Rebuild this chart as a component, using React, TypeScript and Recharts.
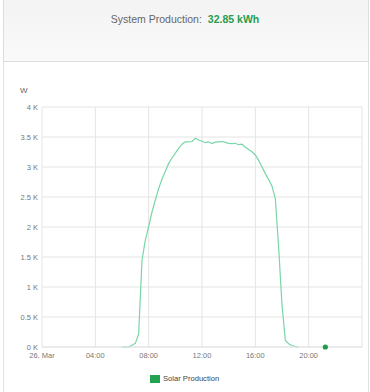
import React from "react";
import { LineChart, Line, XAxis, YAxis, CartesianGrid } from "recharts";

const hours: number[] = [
  6.0, 6.25, 6.5, 6.75, 7.0, 7.25, 7.5, 7.75, 8.0, 8.25, 8.5, 8.75, 9.0, 9.25, 9.5, 9.75,
  10.0, 10.25, 10.5, 10.75, 11.0, 11.25, 11.5, 11.75, 12.0, 12.25, 12.5, 12.75, 13.0, 13.25,
  13.5, 13.75, 14.0, 14.25, 14.5, 14.75, 15.0, 15.25, 15.5, 15.75, 16.0, 16.25, 16.5, 16.75,
  17.0, 17.25, 17.5, 17.75, 18.0, 18.25, 18.5, 18.75, 19.0, 19.25, 20.0, 21.25,
];
const watts: (number | null)[] = [
  0, 0, 0, 30, 60, 220, 1450, 1780, 2010, 2250, 2450, 2640, 2800, 2930, 3060, 3150,
  3230, 3310, 3380, 3420, 3420, 3425, 3480, 3450, 3430, 3405, 3420, 3390, 3415, 3420,
  3425, 3410, 3395, 3390, 3395, 3372, 3380, 3330, 3290, 3255, 3200, 3110, 3000, 2890,
  2790, 2680, 2470, 1650, 700, 110, 55, 25, 8, 0, null, 0,
];
const xTicks: number[] = [0, 4, 8, 12, 16, 20];
const xTickLabels: string[] = ["26. Mar", "04:00", "08:00", "12:00", "16:00", "20:00"];
const yTicks: number[] = [0, 500, 1000, 1500, 2000, 2500, 3000, 3500, 4000];
const yTickLabels: string[] = ["0 K", "0.5 K", "1 K", "1.5 K", "2 K", "2.5 K", "3 K", "3.5 K", "4 K"];
const headerLabel = "System Production:";
const headerValue = "32.85 kWh";
const seriesName = "Solar Production";
const yUnit = "W";

const data = hours.map((h, i) => ({ t: h, w: watts[i] }));
const lastIdx = data.length - 1;

const FONT = "'Liberation Sans', Arial, sans-serif";

export default function App() {
  return (
    <div style={{ position: "absolute", left: 0, top: 0, width: 370, height: 392, background: "#fff", fontFamily: FONT, overflow: "hidden" }}>
      <div
        style={{
          position: "absolute",
          left: 3,
          top: 0,
          width: 364,
          height: 61,
          borderLeft: "1px solid #ddd",
          borderRight: "1px solid #ddd",
          borderBottom: "1px solid #ddd",
          background: "linear-gradient(#f3f3f3, #fafafa)",
        }}
      />
      <div style={{ position: "absolute", left: 3, top: 62, width: 364, height: 330, borderLeft: "1px solid #e2e2e2", borderRight: "1px solid #e2e2e2" }} />
      <div style={{ position: "absolute", left: 0, top: 12, width: 370, textAlign: "center", fontSize: 10.5, lineHeight: "14px" }}>
        <span style={{ color: "#666" }}>{headerLabel}</span>
        <span style={{ color: "#2a9d4f", fontWeight: "bold", marginLeft: 6 }}>{headerValue}</span>
      </div>
      <div style={{ position: "absolute", left: 20, top: 86, fontSize: 8, color: "#666" }}>{yUnit}</div>
      <div style={{ position: "absolute", left: 0, top: 62 }}>
        <LineChart width={370} height={330} data={data} margin={{ top: 45, right: 8, left: 0, bottom: 25 }}>
          <CartesianGrid stroke="#e4e4e4" strokeWidth={1} />
          <XAxis
            dataKey="t"
            type="number"
            domain={[0, 24]}
            ticks={xTicks}
            tickFormatter={(v: number) => xTickLabels[xTicks.indexOf(v)] ?? ""}
            tickLine={false}
            axisLine={{ stroke: "#e4e4e4" }}
            tickSize={0}
            tickMargin={6}
            height={20}
            interval={0}
            tick={{ fontSize: 7.5, fill: "#777", fontFamily: FONT }}
          />
          <YAxis
            type="number"
            domain={[0, 4000]}
            ticks={yTicks}
            tickFormatter={(v: number) => yTickLabels[yTicks.indexOf(v)] ?? ""}
            tickLine={false}
            axisLine={false}
            tickSize={0}
            tickMargin={4}
            width={42}
            interval={0}
            tick={{ fontSize: 7.5, fill: "#777", fontFamily: FONT }}
          />
          <Line
            type="linear"
            dataKey="w"
            stroke="#78d6a8"
            strokeWidth={1.2}
            connectNulls={false}
            isAnimationActive={false}
            dot={(p: any) =>
              p.index === lastIdx ? (
                <circle key={`d${p.index}`} cx={p.cx} cy={p.cy} r={2.6} fill="#1e9b4c" />
              ) : (
                <g key={`d${p.index}`} />
              )
            }
            activeDot={false}
          />
        </LineChart>
      </div>
      <div style={{ position: "absolute", left: 150, top: 374, display: "flex", alignItems: "center" }}>
        <div style={{ width: 10, height: 8, background: "#22a350" }} />
        <span style={{ marginLeft: 3, fontSize: 7.6, color: "#444" }}>{seriesName}</span>
      </div>
    </div>
  );
}
